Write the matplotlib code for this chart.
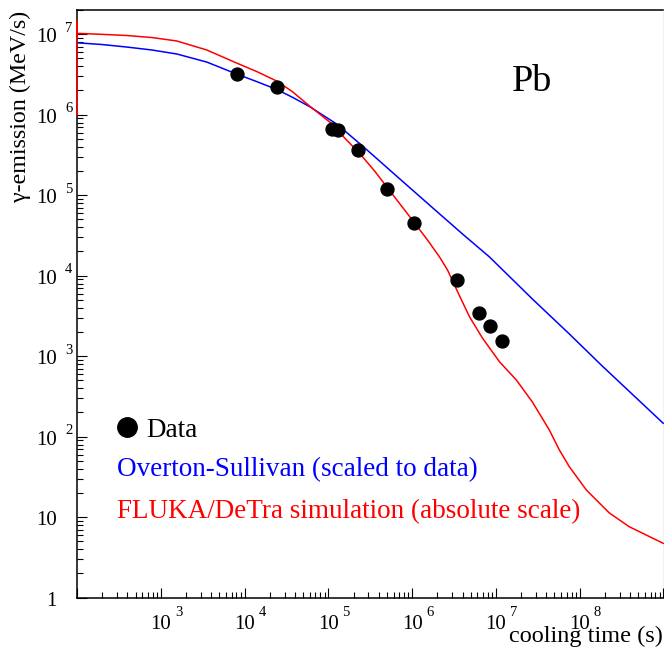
import numpy as np
import matplotlib
matplotlib.use("Agg")
import matplotlib.pyplot as plt
from matplotlib.ticker import LogLocator, NullFormatter
from matplotlib.transforms import ScaledTranslation

# ---------------- data ----------------
data_t = [8.2e3, 2.44e4, 1.10e5, 1.29e5, 2.25e5, 5.07e5, 1.04e6, 3.41e6, 6.22e6, 8.41e6, 1.19e7]
data_y = [3.2e6, 2.18e6, 6.56e5, 6.38e5, 3.6e5, 1.21e5, 4.54e4, 8.94e3, 3.45e3, 2.38e3, 1.53e3]

blue_t = [1e2, 198.6, 394.5, 783.4, 1556, 3540, 8072, 1.396e4, 2.421e4, 3.758e4, 5.984e4,
          1.256e5, 2.564e5, 6.516e5, 1.611e6, 3.990e6, 8.375e6, 2.723e7, 7.516e7,
          1.858e8, 4.732e8, 9.91e8]
blue_y = [7.83e6, 7.45e6, 6.93e6, 6.37e6, 5.68e6, 4.51e6, 3.20e6, 2.58e6, 2.06e6, 1.64e6, 1.26e6,
          7.67e5, 4.08e5, 1.73e5, 7.55e4, 3.30e4, 1.71e4, 5.14e3, 1.89e3,
          755, 303, 147]

red_t = [1e2, 1e2, 1e2, 198.6, 394.5, 783.4, 1556, 3540, 8072, 1.396e4, 2.421e4, 3.758e4,
         5.984e4, 1.038e5, 1.565e5, 2.360e5, 3.565e5, 5.093e5, 7.482e5, 1.069e6, 1.528e6,
         2.123e6, 2.642e6, 3.199e6, 3.879e6, 4.831e6, 6.902e6, 1.101e7, 1.754e7, 2.723e7,
         4.341e7, 5.715e7, 7.516e7, 1.199e8, 2.254e8, 3.899e8, 9.91e8]
red_y = [1.0e6, 1.45e7, 1.026e7, 9.97e6, 9.64e6, 9.10e6, 8.24e6, 6.37e6, 4.38e6, 3.44e6, 2.62e6, 1.92e6,
         1.28e6, 8.11e5, 5.14e5, 3.31e5, 2.00e5, 1.23e5, 7.33e4, 4.52e4, 2.77e4,
         1.71e4, 1.18e4, 7.67e3, 5.00e3, 3.10e3, 1.68e3, 855, 506, 270,
         121, 68.4, 42.4, 21.8, 11.3, 7.62, 4.74]

x_exps = [3, 4, 5, 6, 7, 8]
y_exps = [0, 1, 2, 3, 4, 5, 6, 7]

legend_labels = ["Data", "Overton-Sullivan (scaled to data)",
                 "FLUKA/DeTra simulation (absolute scale)"]
x_title = "cooling time (s)"
y_title = "\u03b3-emission (MeV/s)"
panel_label = "Pb"

# ---------------- figure ----------------
W, H, DPI = 664, 648, 100
FONT = "Liberation Serif"
fig = plt.figure(figsize=(W / DPI, H / DPI), dpi=DPI)
L, R, B, T = 77, 663.5, 597.7, 10
ax = fig.add_axes([L / W, 1 - B / H, (R - L) / W, (B - T) / H])
ax.set_xscale("log")
ax.set_yscale("log")
ax.set_xlim(1e2, 1e9)
ax.set_ylim(1, 2e7)

ax.plot(blue_t, blue_y, color="#0000ff", lw=1.1, zorder=3)
ax.plot(red_t, red_y, color="#ff0000", lw=1.1, zorder=3, clip_on=False)
ax.plot(data_t, data_y, "o", color="black", ms=9.3, zorder=4)

for s in ax.spines.values():
    s.set_linewidth(1.1)
ax.spines["right"].set_linewidth(0.8)

for axis in (ax.xaxis, ax.yaxis):
    axis.set_major_locator(LogLocator(base=10, numticks=30))
    axis.set_minor_locator(LogLocator(base=10, subs=np.arange(2, 10), numticks=30))
    axis.set_major_formatter(NullFormatter())
    axis.set_minor_formatter(NullFormatter())
ax.tick_params(which="both", direction="in", top=False, right=False,
               labelbottom=False, labelleft=False, width=0.8, color="black")
ax.tick_params(which="major", length=7.5)
ax.tick_params(which="minor", length=4)

def off(dx, dy):
    return ScaledTranslation(dx / DPI, -dy / DPI, fig.dpi_scale_trans)

# y tick labels
for e in y_exps:
    yv = 10.0 ** e
    base = "1" if e == 0 else "10"
    ax.text(0, yv, base, transform=ax.get_yaxis_transform() + off(-20, 8),
            ha="right", va="baseline", fontsize=15, family=FONT)
    if e >= 2:
        ax.text(0, yv, str(e), transform=ax.get_yaxis_transform() + off(-12, -2.3),
                ha="left", va="baseline", fontsize=10.5, family=FONT)

# x tick labels
for e in x_exps:
    xv = 10.0 ** e
    ax.text(xv, 0, "10", transform=ax.get_xaxis_transform() + off(0, 31),
            ha="center", va="baseline", fontsize=15, family=FONT)
    ax.text(xv, 0, str(e), transform=ax.get_xaxis_transform() + off(14, 18),
            ha="left", va="baseline", fontsize=10.5, family=FONT)

def ftext(xp, yp, s, **kw):
    return fig.text(xp / W, 1 - yp / H, s, family=FONT, **kw)

ftext(663, 642, x_title, ha="right", va="baseline", fontsize=17.5)
ftext(26, 11, y_title, ha="right", va="baseline", rotation=90,
      rotation_mode="anchor", fontsize=17.3)
ftext(512, 91, panel_label, ha="left", va="baseline", fontsize=27.5)

# legend
fig.lines.append(plt.Line2D([127 / W], [1 - 427 / H], marker="o", color="black",
                            ms=14, linestyle="none", transform=fig.transFigure))
ftext(146, 437, legend_labels[0], ha="left", va="baseline", fontsize=19.5, color="black")
ftext(116.7, 476, legend_labels[1], ha="left", va="baseline", fontsize=19.5, color="#0000ff")
ftext(116.7, 518, legend_labels[2], ha="left", va="baseline", fontsize=19.5, color="#ff0000")

fig.savefig("out.png", dpi=DPI)
